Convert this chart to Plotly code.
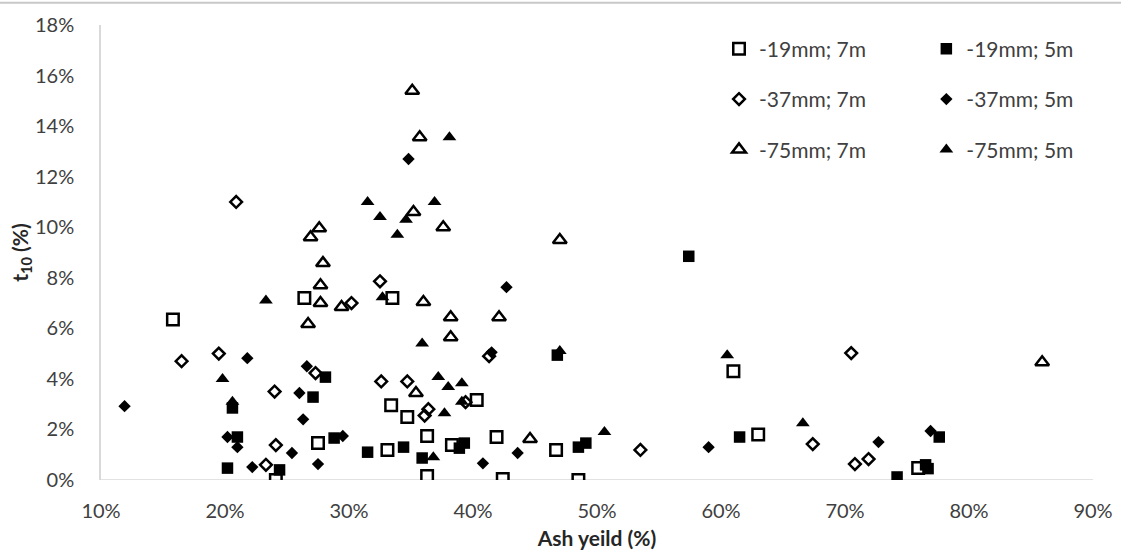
import plotly.graph_objects as go

# Ash yield (%) vs t10 (%) for three top sizes and two drop heights
ash_19_7 = [15.8, 26.4, 33.5, 27.5, 24.1, 33.4, 34.7, 36.3, 36.3, 33.1, 38.3, 40.3, 41.9, 42.4, 46.7, 48.5, 61.0, 63.0, 75.9]
t10_19_7 = [6.35, 7.2, 7.2, 1.46, 0.0, 2.96, 2.49, 1.74, 0.16, 1.19, 1.38, 3.16, 1.7, 0.04, 1.19, 0.0, 4.3, 1.8, 0.47]

ash_19_5 = [20.2, 20.6, 21.0, 24.4, 28.1, 27.1, 28.8, 31.5, 34.4, 35.9, 38.9, 39.3, 46.8, 48.5, 49.1, 57.4, 61.5, 74.2, 76.5, 76.7, 77.6]
t10_19_5 = [0.47, 2.85, 1.7, 0.4, 4.07, 3.28, 1.66, 1.1, 1.3, 0.87, 1.26, 1.46, 4.94, 1.3, 1.46, 8.85, 1.7, 0.12, 0.6, 0.45, 1.7]

ash_37_7 = [20.9, 16.5, 19.5, 24.0, 24.1, 23.3, 27.3, 32.5, 30.2, 32.6, 34.7, 36.4, 36.1, 39.4, 41.3, 53.5, 67.4, 70.5, 70.8, 71.9]
t10_37_7 = [11.0, 4.7, 5.0, 3.5, 1.38, 0.6, 4.23, 7.86, 7.0, 3.9, 3.9, 2.8, 2.55, 3.08, 4.9, 1.19, 1.42, 5.02, 0.63, 0.83]

ash_37_5 = [11.9, 21.8, 22.2, 20.2, 21.0, 26.0, 26.3, 25.4, 27.5, 26.6, 29.5, 34.8, 42.7, 41.5, 40.8, 43.6, 59.0, 72.7, 76.9]
t10_37_5 = [2.92, 4.82, 0.51, 1.7, 1.3, 3.44, 2.4, 1.07, 0.63, 4.5, 1.74, 12.7, 7.63, 5.05, 0.66, 1.07, 1.3, 1.5, 1.94]

ash_75_7 = [35.1, 35.7, 35.2, 37.6, 27.6, 26.9, 27.9, 27.7, 27.7, 29.4, 26.7, 36.0, 38.2, 38.2, 42.1, 35.4, 44.6, 47.0, 85.9]
t10_75_7 = [15.4, 13.56, 10.6, 10.0, 9.96, 9.6, 8.58, 7.7, 7.0, 6.84, 6.17, 7.04, 6.44, 5.65, 6.44, 3.44, 1.62, 9.49, 4.66]

ash_75_5 = [23.3, 19.8, 20.6, 31.5, 32.5, 34.6, 33.9, 36.9, 38.1, 32.7, 35.9, 37.2, 38.0, 39.1, 39.1, 37.7, 36.8, 47.0, 50.6, 60.5, 66.6]
t10_75_5 = [7.1, 4.0, 3.1, 11.0, 10.4, 10.3, 9.7, 11.0, 13.56, 7.23, 5.4, 4.07, 3.68, 3.83, 3.1, 2.64, 0.9, 5.1, 1.9, 4.94, 2.25]

x_ticks = [10, 20, 30, 40, 50, 60, 70, 80, 90]
x_tick_labels = ["10%", "20%", "30%", "40%", "50%", "60%", "70%", "80%", "90%"]
y_ticks = [0, 2, 4, 6, 8, 10, 12, 14, 16, 18]
y_tick_labels = ["0%", "2%", "4%", "6%", "8%", "10%", "12%", "14%", "16%", "18%"]

FONT = "Lato"
TICK_COLOR = "#404040"
AXIS_LINE = "#d9d9d9"

series = [
    ("-19mm; 7m", ash_19_7, t10_19_7, "square-open", 11.5, "legend"),
    ("-19mm; 5m", ash_19_5, t10_19_5, "square", 11.5, "legend2"),
    ("-37mm; 7m", ash_37_7, t10_37_7, "diamond-open", 9, "legend"),
    ("-37mm; 5m", ash_37_5, t10_37_5, "diamond", 9.5, "legend2"),
    ("-75mm; 7m", ash_75_7, t10_75_7, "triangle-up-open", 12, "legend"),
    ("-75mm; 5m", ash_75_5, t10_75_5, "triangle-up", 12, "legend2"),
]

fig = go.Figure()
for i, (name, xs, ys, sym, size, leg) in enumerate(series):
    fig.add_trace(go.Scatter(
        x=xs, y=ys, mode="markers", name=name,
        legend=leg, legendgroup=f"g{i}",
        marker=dict(symbol=sym, size=size, color="black",
                    line=dict(color="black", width=2.5 if "open" in sym else 0)),
    ))

legend_style = dict(
    font=dict(family=FONT, size=21, color=TICK_COLOR),
    bgcolor="rgba(0,0,0,0)", borderwidth=0,
    tracegroupgap=20, xanchor="left", yanchor="top", y=0.992,
)

fig.update_layout(
    width=1121, height=557,
    margin=dict(l=101, r=28, t=25, b=77),
    paper_bgcolor="white", plot_bgcolor="white",
    font=dict(family=FONT, color=TICK_COLOR),
    showlegend=True,
    legend=dict(x=0.623, **legend_style),
    legend2=dict(x=0.832, **legend_style),
    xaxis=dict(
        range=[10, 90], tickvals=x_ticks, ticktext=x_tick_labels,
        automargin=False,
        showgrid=False, zeroline=False,
        showline=False, ticks="", ticklabelstandoff=17,
        tickfont=dict(family=FONT, size=20, color=TICK_COLOR),
        title=dict(text="Ash yeild (%)", standoff=10,
                   font=dict(family=FONT, size=21, color="#262626", weight="bold")),
    ),
    yaxis=dict(
        range=[0, 18], tickvals=y_ticks, ticktext=y_tick_labels,
        automargin=False,
        showgrid=False, zeroline=False,
        showline=True, linecolor=AXIS_LINE, linewidth=1.5,
        ticks="", ticklabelstandoff=21,
        tickfont=dict(family=FONT, size=20, color=TICK_COLOR),
        title=dict(text="t<sub>10</sub> (%)", standoff=0,
                   font=dict(family=FONT, size=21, color="#262626", weight="bold")),
    ),
    shapes=[
        # horizontal baseline at 0%
        dict(type="line", xref="x", yref="y", x0=10, x1=90, y0=0, y1=0,
             line=dict(color=AXIS_LINE, width=1.5), layer="below"),
        # frame edge across the top of the chart area
        dict(type="line", xref="paper", yref="paper", x0=-0.11, x1=1.04,
             y0=1.049, y1=1.049, line=dict(color="#c8c8c8", width=2)),
    ],
)

fig.write_html("out.html")
